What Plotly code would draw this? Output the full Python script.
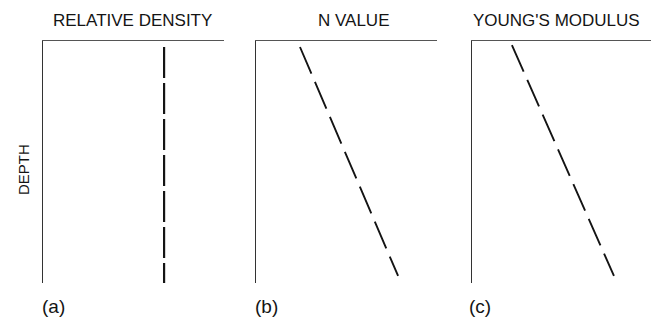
import plotly.graph_objects as go

# Trends of soil properties with depth (schematic, arbitrary units 0-100)
titles = ["RELATIVE DENSITY", "N VALUE", "YOUNG'S MODULUS"]
panel_labels = ["(a)", "(b)", "(c)"]

# property value (x) at the top and bottom of each trend line
density_x = [66.9, 66.9]
density_depth = [2.6, 100.0]

n_value_x = [24.3, 78.5]
n_value_depth = [2.6, 97.1]

modulus_x = [22.3, 79.3]
modulus_depth = [1.8, 97.1]

W, H = 653, 323
FONT = "Liberation Sans, Arial, Helvetica, sans-serif"
INK = "#141414"

# panel frames in pixel units: (left, right), (top, bottom)
panels_px = [((43, 224), (40.7, 283)), ((256, 437), (40.7, 283)), ((472, 651), (40.7, 283))]


def px_x(v):
    return v / W


def px_y(v):
    return 1 - v / H


fig = go.Figure()

series = [
    (density_x, density_depth, 2.2, "31px,5px"),
    (n_value_x, n_value_depth, 1.9, "29px,9px"),
    (modulus_x, modulus_depth, 1.9, "29px,9px"),
]

for i, ((xs, ys, w, dash), ((l, r), (t, b))) in enumerate(zip(series, panels_px)):
    n = "" if i == 0 else str(i + 1)
    fig.add_trace(go.Scatter(
        x=xs, y=ys, mode="lines",
        line=dict(color=INK, width=w, dash=dash),
        xaxis="x" + n, yaxis="y" + n, showlegend=False, hoverinfo="skip",
    ))
    fig.layout["xaxis" + n] = dict(
        domain=[px_x(l), px_x(r)], range=[0, 100], side="top",
        showline=True, linecolor="#555555", linewidth=1.2,
        showticklabels=False, ticks="", showgrid=False, zeroline=False,
        anchor="y" + n,
    )
    fig.layout["yaxis" + n] = dict(
        domain=[px_y(b), px_y(t)], range=[100, 0],
        showline=True, linecolor="#333333", linewidth=1.3,
        showticklabels=False, ticks="", showgrid=False, zeroline=False,
        anchor="x" + n,
    )

annotations = []
title_centers = [132, 354, 556]
label_centers = [53, 266, 480]
for title, cx in zip(titles, title_centers):
    annotations.append(dict(
        text=title, x=px_x(cx), y=px_y(21), xref="paper", yref="paper",
        xanchor="center", yanchor="middle", showarrow=False,
        font=dict(family=FONT, size=17, color=INK),
    ))
for lab, cx in zip(panel_labels, label_centers):
    annotations.append(dict(
        text=lab, x=px_x(cx), y=px_y(306), xref="paper", yref="paper",
        xanchor="center", yanchor="middle", showarrow=False,
        font=dict(family=FONT, size=19, color=INK),
    ))
annotations.append(dict(
    text="DEPTH", x=px_x(23), y=px_y(170), xref="paper", yref="paper",
    xanchor="center", yanchor="middle", showarrow=False, textangle=-90,
    font=dict(family=FONT, size=15, color=INK),
))

fig.update_layout(
    width=W, height=H,
    margin=dict(l=0, r=0, t=0, b=0),
    paper_bgcolor="white", plot_bgcolor="white",
    annotations=annotations,
)

fig.write_html("out.html")
